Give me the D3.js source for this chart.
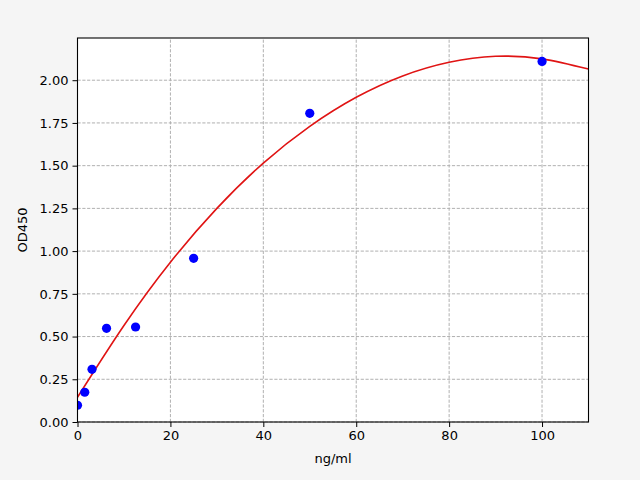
<!DOCTYPE html>
<html>
<head>
<meta charset="utf-8">
<script src="https://cdn.jsdelivr.net/npm/d3@7"></script>
<style>
  html, body { margin: 0; padding: 0; background: #f5f5f5; }
  svg { display: block; }
  .tick text { font-family: "DejaVu Sans", sans-serif; font-size: 13px; fill: #000; }
  .label { font-family: "DejaVu Sans", sans-serif; font-size: 13px; fill: #000; }
</style>
</head>
<body>
<svg id="chart" width="640" height="480"></svg>
<script>
// Standard concentrations (ng/ml) and measured OD450
var concentrations = [0, 1.56, 3.125, 6.25, 12.5, 25, 50, 100];
var od450 = [0.098, 0.174, 0.308, 0.548, 0.556, 0.958, 1.806, 2.11];

// Fitted curve, every 10 ng/ml
var curveX = [0, 10, 20, 30, 40, 50, 60, 70, 80, 90, 100, 110];
var curveY = [0.145, 0.565, 0.935, 1.25, 1.515, 1.73, 1.90, 2.025, 2.105, 2.14, 2.125, 2.065];

var xTicks = [0, 20, 40, 60, 80, 100];
var yTicks = [0, 0.25, 0.5, 0.75, 1.0, 1.25, 1.5, 1.75, 2.0];

var margin = { left: 77.5, right: 51.5, top: 38, bottom: 58 };
var width = 640, height = 480;
var yMax = 2.247;

var svg = d3.select('#chart');

var x = d3.scaleLinear().domain([0, 110]).range([margin.left, width - margin.right]);
var y = d3.scaleLinear().domain([0, yMax]).range([height - margin.bottom, margin.top]);

// plot area
svg.append('rect')
  .attr('x', x(0)).attr('y', y(yMax))
  .attr('width', x(110) - x(0)).attr('height', y(0) - y(yMax))
  .attr('fill', '#fff');

// grid
var grid = svg.append('g').attr('stroke', '#b0b0b0').attr('stroke-width', 1)
  .attr('stroke-dasharray', '3.2,1.6');
grid.selectAll('line.gx').data(xTicks).enter().append('line')
  .attr('x1', function (d) { return x(d); }).attr('x2', function (d) { return x(d); })
  .attr('y1', y(0)).attr('y2', y(yMax));
grid.selectAll('line.gy').data(yTicks).enter().append('line')
  .attr('y1', function (d) { return y(d); }).attr('y2', function (d) { return y(d); })
  .attr('x1', x(0)).attr('x2', x(110));

// clip to the axes box
svg.append('clipPath').attr('id', 'clip').append('rect')
  .attr('x', x(0)).attr('y', y(yMax))
  .attr('width', x(110) - x(0)).attr('height', y(0) - y(yMax));

// fitted curve
var line = d3.line()
  .x(function (d, i) { return x(curveX[i]); })
  .y(function (d) { return y(d); })
  .curve(d3.curveNatural);

svg.append('path')
  .attr('clip-path', 'url(#clip)')
  .attr('d', line(curveY))
  .attr('fill', 'none')
  .attr('stroke', '#e01414')
  .attr('stroke-width', 1.6);

// points
svg.append('g').attr('clip-path', 'url(#clip)')
  .selectAll('circle').data(od450).enter().append('circle')
  .attr('cx', function (d, i) { return x(concentrations[i]); })
  .attr('cy', function (d) { return y(d); })
  .attr('r', 4.6)
  .attr('fill', '#0000ff');

// axes
var xAxis = d3.axisBottom(x).tickValues(xTicks).tickSize(5).tickPadding(4)
  .tickFormat(d3.format('d'));
var yAxis = d3.axisLeft(y).tickValues(yTicks).tickSize(5).tickPadding(4)
  .tickFormat(d3.format('.2f'));

var gx = svg.append('g').attr('transform', 'translate(0,' + y(0) + ')').call(xAxis);
var gy = svg.append('g').attr('transform', 'translate(' + x(0) + ',0)').call(yAxis);
[gx, gy].forEach(function (g) {
  g.select('.domain').remove();
  g.selectAll('.tick line').attr('stroke', '#000').attr('stroke-width', 1);
});

// frame
svg.append('rect')
  .attr('x', x(0)).attr('y', y(yMax))
  .attr('width', x(110) - x(0)).attr('height', y(0) - y(yMax))
  .attr('fill', 'none').attr('stroke', '#000').attr('stroke-width', 1.1);

// labels
svg.append('text').attr('class', 'label')
  .attr('x', (x(0) + x(110)) / 2).attr('y', 463)
  .attr('text-anchor', 'middle').text('ng/ml');

svg.append('text').attr('class', 'label')
  .attr('transform', 'translate(27,' + (y(0) + y(yMax)) / 2 + ') rotate(-90)')
  .attr('text-anchor', 'middle').text('OD450');
</script>
</body>
</html>
